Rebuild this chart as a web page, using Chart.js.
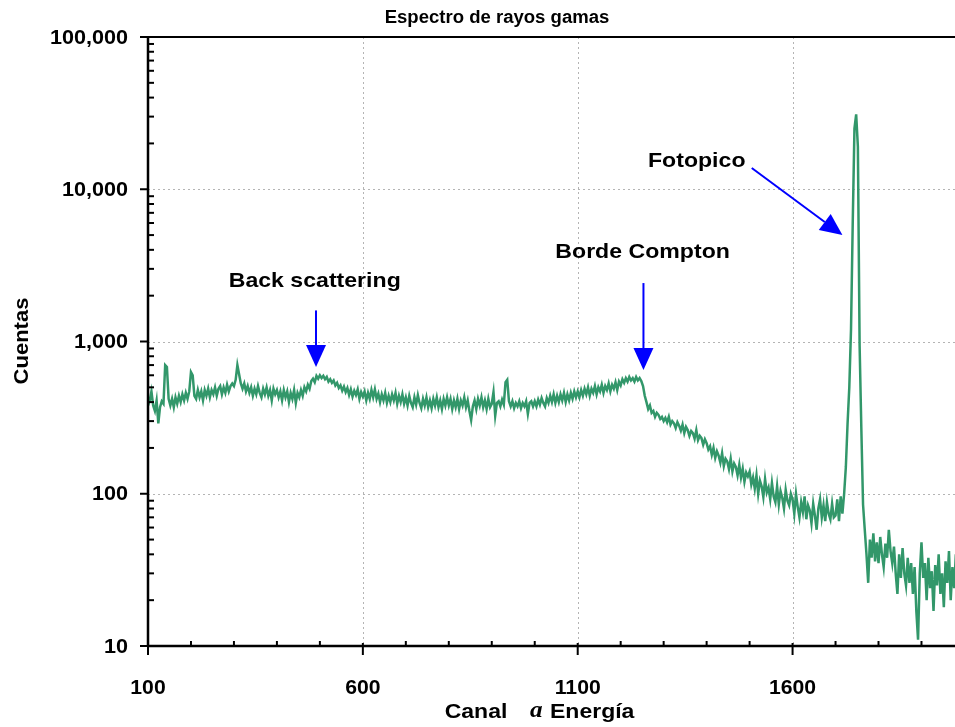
<!DOCTYPE html>
<html>
<head>
<meta charset="utf-8">
<script src="https://cdn.jsdelivr.net/npm/chart.js@4.4.0/dist/chart.umd.min.js"></script>
<style>
  html, body { margin: 0; padding: 0; background: #fff; }
  #wrap { width: 955px; height: 727px; }
</style>
</head>
<body>
<div id="wrap"><canvas id="spectrum" width="955" height="727"></canvas></div>
<script>
// canal inicial y paso entre canales
const chStart = 100;
const chStep = 4;

// cuentas por canal, 100..1980 cada 4 canales
const counts = [
  380, 410, 470, 380, 350, 410, 290, 370, 405, 390, 700, 680, 420, 380, 420, 370, 430, 390, 440, 400, 450, 410, 460, 420, 470,
  630, 600, 440, 420, 480, 430, 470, 410, 480, 440, 490, 430, 480, 450, 500, 440, 490, 510, 450, 500, 460, 520, 470, 510, 530,
  510, 560, 700, 610, 530, 490, 530, 470, 510, 460, 500, 440, 490, 450, 510, 460, 430, 490, 450, 500, 440, 480, 410, 490, 450,
  480, 430, 470, 410, 480, 430, 470, 400, 460, 420, 480, 395, 460, 430, 480, 440, 500, 470, 520, 490, 550, 570, 540, 595, 570,
  600, 575, 595, 565, 585, 545, 565, 535, 555, 515, 535, 495, 515, 475, 505, 465, 495, 445, 485, 435, 475, 445, 485, 420, 465,
  435, 470, 410, 460, 420, 480, 430, 485, 420, 455, 400, 450, 410, 460, 395, 440, 400, 450, 410, 460, 390, 440, 400, 450, 390,
  430, 380, 440, 395, 370, 430, 385, 445, 395, 365, 420, 380, 430, 370, 410, 365, 420, 380, 430, 370, 410, 360, 420, 380, 430,
  380, 420, 360, 410, 370, 420, 360, 410, 380, 430, 370, 410, 350, 305, 375, 410, 360, 420, 380, 430, 370, 410, 360, 420, 370,
  390, 465, 325, 395, 405, 375, 415, 385, 540, 560, 405, 375, 405, 365, 395, 375, 405, 365, 395, 375, 405, 335, 395, 405, 375,
  405, 375, 415, 385, 425, 395, 375, 425, 395, 440, 400, 450, 395, 440, 400, 450, 410, 460, 400, 450, 410, 460, 420, 470, 430,
  470, 430, 480, 440, 490, 450, 500, 440, 490, 460, 510, 450, 500, 470, 520, 460, 510, 480, 530, 470, 520, 490, 540, 480, 545,
  515, 565, 535, 575, 545, 585, 555, 575, 545, 585, 555, 575, 550, 510, 440, 400, 360, 380, 340, 350, 320, 340, 330, 310, 320,
  300, 315, 295, 320, 285, 300, 290, 270, 295, 280, 260, 285, 250, 275, 262, 240, 258, 250, 230, 262, 225, 240, 232, 210, 228,
  215, 195, 205, 180, 200, 172, 190, 178, 160, 185, 152, 170, 163, 145, 170, 140, 158, 150, 132, 155, 128, 146, 120, 138, 130,
  140, 115, 128, 108, 132, 100, 122, 112, 95, 125, 102, 110, 92, 118, 96, 88, 112, 85, 104, 94, 80, 106, 90, 84, 100,
  92, 74, 100, 82, 70, 88, 76, 96, 68, 84, 78, 64, 86, 72, 58, 80, 92, 70, 84, 66, 88, 74, 68, 86, 70,
  72, 92, 66, 96, 74, 100, 150, 290, 500, 1200, 6000, 25000, 31000, 19000, 950, 270, 85, 58, 40, 26, 50, 38, 55, 36, 48,
  35, 52, 40, 33, 47, 38, 58, 42, 35, 45, 30, 22, 40, 28, 44, 30, 25, 38, 26, 35, 22, 33, 17, 11, 30,
  48, 28, 35, 20, 38, 24, 31, 17, 34, 25, 40, 22, 30, 18, 36, 26, 42, 20, 33, 24, 40
];

// ejes
const xMin = 100;
const xMax = 1978;
const xTicks = [100, 600, 1100, 1600];
const xMinorTicks = [200, 300, 400, 500, 700, 800, 900, 1000, 1200, 1300, 1400, 1500, 1700, 1800, 1900];
const yTicks = [10, 100, 1000, 10000, 100000];
const yTickLabels = ["10", "100", "1,000", "10,000", "100,000"];

// anotaciones: texto y flecha en coordenadas del grafico (canal, cuentas)
const notes = [
  { text: "Back scattering", at: [488, 2500], from: [491, 1600], to: [491, 680] },
  { text: "Borde Compton", at: [1251, 3860], from: [1253, 2420], to: [1253, 650] },
  { text: "Fotopico", at: [1377, 15300], from: [1505, 13800], to: [1716, 5000] }
];

const points = counts.map((c, i) => ({ x: chStart + i * chStep, y: c }));

function drawText(ctx, text, x, y, font, align, sx) {
  ctx.save();
  ctx.font = font;
  ctx.textBaseline = "middle";
  ctx.textAlign = "left";
  const w = ctx.measureText(text).width * sx;
  const left = align === "center" ? x - w / 2 : align === "right" ? x - w : x;
  ctx.translate(left, y);
  ctx.scale(sx, 1);
  ctx.fillText(text, 0, 0);
  ctx.restore();
  return w;
}

function line(ctx, x1, y1, x2, y2) {
  ctx.beginPath();
  ctx.moveTo(x1, y1);
  ctx.lineTo(x2, y2);
  ctx.stroke();
}

function arrow(ctx, x1, y1, x2, y2) {
  const ang = Math.atan2(y2 - y1, x2 - x1);
  const headLen = 22, headW = 10;
  const bx = x2 - headLen * Math.cos(ang), by = y2 - headLen * Math.sin(ang);
  ctx.save();
  ctx.strokeStyle = "#0000ff";
  ctx.fillStyle = "#0000ff";
  ctx.lineWidth = 2;
  line(ctx, x1, y1, bx, by);
  ctx.beginPath();
  ctx.moveTo(x2, y2);
  ctx.lineTo(bx + headW * Math.sin(ang), by - headW * Math.cos(ang));
  ctx.lineTo(bx - headW * Math.sin(ang), by + headW * Math.cos(ang));
  ctx.closePath();
  ctx.fill();
  ctx.restore();
}

const FONT = "'Liberation Sans', Arial, sans-serif";

const gridPlugin = {
  id: "gridPlugin",
  beforeDatasetsDraw(chart) {
    const { ctx, chartArea: a, scales: { x, y } } = chart;
    ctx.save();
    ctx.strokeStyle = "#b4b4b4";
    ctx.lineWidth = 1;
    ctx.setLineDash([2, 3]);
    xTicks.slice(1).forEach(v => {
      const px = Math.round(x.getPixelForValue(v)) + 0.5;
      line(ctx, px, a.top, px, a.bottom);
    });
    yTicks.slice(1, -1).forEach(v => {
      const py = Math.round(y.getPixelForValue(v)) + 0.5;
      line(ctx, a.left, py, a.right, py);
    });
    ctx.restore();
  },
  afterDatasetsDraw(chart) {
    const { ctx, chartArea: a, scales: { x, y } } = chart;
    ctx.save();
    ctx.strokeStyle = "#000";
    ctx.fillStyle = "#000";
    // marco
    ctx.lineWidth = 2.5;
    line(ctx, a.left, a.top - 1, a.left, a.bottom + 1);
    line(ctx, a.left - 1, a.bottom, a.right, a.bottom);
    ctx.lineWidth = 2;
    line(ctx, a.left, a.top, a.right, a.top);
    // marcas eje y
    ctx.lineWidth = 2;
    yTicks.forEach((v, i) => {
      const py = y.getPixelForValue(v);
      line(ctx, a.left - 8, py, a.left, py);
      drawText(ctx, yTickLabels[i], a.left - 20, py + 1, "bold 20px " + FONT, "right", 1.08);
      if (v < 100000) {
        for (let k = 2; k <= 9; k++) {
          const pm = y.getPixelForValue(v * k);
          line(ctx, a.left, pm, a.left + 6, pm);
        }
      }
    });
    // marcas eje x
    xTicks.forEach(v => {
      const px = x.getPixelForValue(v);
      line(ctx, px, a.bottom - 3, px, a.bottom + 9);
      drawText(ctx, String(v), px, a.bottom + 42, "bold 20px " + FONT, "center", 1.06);
    });
    xMinorTicks.forEach(v => {
      const px = x.getPixelForValue(v);
      line(ctx, px, a.bottom - 5, px, a.bottom);
    });
    // titulos
    drawText(ctx, "Espectro de rayos gamas", 497, 18, "bold 18px " + FONT, "center", 1.03);
    ctx.save();
    ctx.translate(22, 341);
    ctx.rotate(-Math.PI / 2);
    drawText(ctx, "Cuentas", 0, 0, "bold 20px " + FONT, "center", 1.1);
    ctx.restore();
    drawText(ctx, "Canal", 476, 712, "bold 20px " + FONT, "center", 1.15);
    drawText(ctx, "a", 530, 711, "bold italic 24px 'Liberation Serif', 'Times New Roman', serif", "left", 1.05);
    drawText(ctx, "Energía", 550, 712, "bold 20px " + FONT, "left", 1.15);
    // anotaciones
    notes.forEach(n => {
      drawText(ctx, n.text, x.getPixelForValue(n.at[0]), y.getPixelForValue(n.at[1]),
        "bold 21px " + FONT, "center", 1.1);
      arrow(ctx, x.getPixelForValue(n.from[0]), y.getPixelForValue(n.from[1]),
        x.getPixelForValue(n.to[0]), y.getPixelForValue(n.to[1]));
    });
    ctx.restore();
  }
};

new Chart(document.getElementById("spectrum"), {
  type: "line",
  data: {
    datasets: [{
      label: "Cuentas",
      data: points,
      borderColor: "#32976a",
      borderWidth: 2.5,
      pointRadius: 0,
      tension: 0,
      fill: false
    }]
  },
  options: {
    responsive: false,
    animation: false,
    layout: { padding: { left: 148, top: 37, right: 0, bottom: 81 } },
    plugins: { legend: { display: false }, tooltip: { enabled: false }, title: { display: false } },
    scales: {
      x: { type: "linear", min: xMin, max: xMax, display: false },
      y: { type: "logarithmic", min: 10, max: 100000, display: false }
    }
  },
  plugins: [gridPlugin]
});
</script>
</body>
</html>
